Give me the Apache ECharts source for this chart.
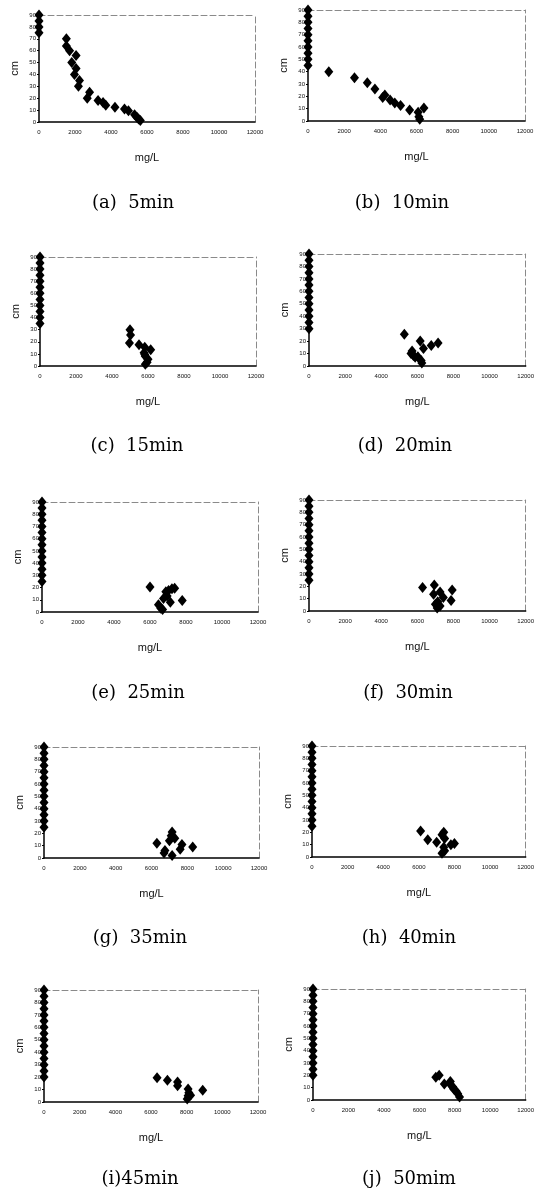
<!DOCTYPE html>
<html>
<head>
<meta charset="utf-8">
<script src="https://cdn.jsdelivr.net/npm/echarts@6/dist/echarts.min.js"></script>
<style>
  html, body { margin: 0; padding: 0; background: #fff; }
  #main { width: 537px; height: 1191px; }
</style>
</head>
<body>
<div id="main"></div>
<script>
// captions under each small chart
var captions = ['(a)  5min', '(b)  10min', '(c)  15min', '(d)  20min', '(e)  25min',
                '(f)  30min', '(g)  35min', '(h)  40min', '(i)45min', '(j)  50mim'];

// [mg/L, cm]
var pts5 = [[0,90],[0,85],[0,80],[0,75],[1520,70],[1520,64],[1700,60],[2060,56],[1820,50],[2060,45],
  [1970,40],[2250,35],[2190,30],[2810,25],[2680,20],[3280,18],[3560,16.5],[3710,14],[4220,12.5],
  [4750,11],[4970,9.5],[5310,6],[5440,4],[5530,2.5],[5630,1.2]];
var pts10 = [[0,90],[0,85],[0,80],[0,75],[0,70],[0,65],[0,60],[0,55],[0,50],[0,45],
  [1150,40],[2570,35],[3280,31],[3700,26],[4250,21],[4130,19],[4540,17],[4800,14.5],[5120,12.5],
  [5620,9],[6090,7],[6130,3.5],[6180,1.5],[6410,10.5]];
var pts15 = [[0,90],[0,85],[0,80],[0,75],[0,70],[0,65],[0,60],[0,55],[0,50],[0,45],[0,40],[0,35],
  [5000,30],[5030,25.5],[4970,19],[5500,17.5],[5820,15.5],[6150,13.5],[5780,11],[5820,9.5],
  [5850,8],[6000,5.5],[5950,3],[5850,1.5]];
var pts20 = [[0,90],[0,85],[0,80],[0,75],[0,70],[0,65],[0,60],[0,55],[0,50],[0,45],[0,40],[0,35],[0,30],
  [5280,25.5],[6160,20],[6340,14],[6770,16.5],[7150,18.5],[5710,12],[5650,10],[5780,8.5],
  [5880,7],[6030,7.5],[6210,4.5],[6250,2.5]];
var pts25 = [[0,90],[0,85],[0,80],[0,75],[0,70],[0,65],[0,60],[0,55],[0,50],[0,45],[0,40],[0,35],[0,30],[0,25],
  [6000,20.5],[6880,16.5],[7030,17.5],[7220,19],[7370,19.5],[6750,11],[7130,8],[7790,9.5],
  [6470,6],[6600,3],[6700,2],[6950,13]];
var pts30 = [[0,90],[0,85],[0,80],[0,75],[0,70],[0,65],[0,60],[0,55],[0,50],[0,45],[0,40],[0,35],[0,30],[0,25],
  [6290,19],[6940,21],[6900,13.5],[7260,15.5],[7440,11],[7130,7.5],[7000,5.5],[7260,4],
  [7930,17],[7870,8.5],[7100,2.5]];
var pts35 = [[0,90],[0,85],[0,80],[0,75],[0,70],[0,65],[0,60],[0,55],[0,50],[0,45],[0,40],[0,35],[0,30],[0,25],
  [6300,12],[6700,4],[6750,6],[7000,14],[7100,18],[7150,21],[7300,16],[7600,7],[7700,11],
  [8300,9],[7150,2]];
var pts40 = [[0,90],[0,85],[0,80],[0,75],[0,70],[0,65],[0,60],[0,55],[0,50],[0,45],[0,40],[0,35],[0,30],[0,25],
  [6100,21],[6500,14],[7000,12],[7300,18],[7400,20],[7450,15],[7400,8],[7450,5],[7300,3],
  [7800,10],[8000,11]];
var pts45 = [[0,90],[0,85],[0,80],[0,75],[0,70],[0,65],[0,60],[0,55],[0,50],[0,45],[0,40],[0,35],[0,30],[0,25],[0,20],
  [6340,19.5],[6920,17.5],[7490,16],[7490,13],[8080,10.5],[8120,7.5],[8080,5],[8220,5.5],
  [8030,2.5],[8900,9.5]];
var pts50 = [[0,90],[0,85],[0,80],[0,75],[0,70],[0,65],[0,60],[0,55],[0,50],[0,45],[0,40],[0,35],[0,30],[0,25],[0,20],
  [6930,18.5],[7120,20],[7410,13],[7750,15],[7790,12],[7890,10.5],[7940,9],[8080,7],[8170,5],[8270,2.5]];

var allPts = [pts5, pts10, pts15, pts20, pts25, pts30, pts35, pts40, pts45, pts50];

var xMin = 0, xMax = 12000, xStep = 2000;
var yMin = 0, yMax = 90, yStep = 10;

// plot boxes [left, top, width, height] and caption centres [x, y]
var boxes = [
  [39, 15, 216, 107], [308, 10, 217, 111],
  [40, 257, 216, 109], [309, 254, 217, 112],
  [42, 502, 216, 110], [309, 500, 218, 111],
  [44, 747, 215, 111], [312, 746, 216, 111],
  [44, 990, 214, 112], [313, 989, 214, 111]
];
var capPos = [
  [128, 200], [397, 200], [132, 443], [400, 443], [133, 690],
  [403, 690], [135, 935], [404, 935], [135, 1176], [404, 1176]
];

var myChart = echarts.init(document.getElementById('main'));

var grids = [], xAxes = [], yAxes = [], series = [], titles = [];
var nameFont = { fontSize: 11, color: '#111', fontFamily: 'Liberation Sans' };
var dashBorder = { show: true, onZero: false, lineStyle: { color: '#8a8a8a', width: 1, type: [6, 3] } };

for (var i = 0; i < 10; i++) {
  var b = boxes[i];
  grids.push({ left: b[0], top: b[1], width: b[2], height: b[3] });

  // bottom axis
  xAxes.push({
    type: 'value', gridIndex: i, min: xMin, max: xMax, interval: xStep,
    name: 'mg/L', nameLocation: 'middle', nameGap: 30, nameTextStyle: nameFont,
    axisLine: { show: true, onZero: false, lineStyle: { color: '#000', width: 1.5 } },
    axisTick: { show: false },
    splitLine: { show: false },
    axisLabel: { fontSize: 6, color: '#111', fontFamily: 'Liberation Sans', margin: 7,
                 formatter: function (v) { return String(v); } }
  });
  // top border
  xAxes.push({
    type: 'value', gridIndex: i, position: 'top', min: xMin, max: xMax,
    axisLine: dashBorder, axisTick: { show: false }, axisLabel: { show: false }, splitLine: { show: false }
  });

  yAxes.push({
    type: 'value', gridIndex: i, min: yMin, max: yMax, interval: yStep,
    name: 'cm', nameLocation: 'middle', nameGap: 19, nameRotate: 90, nameTextStyle: nameFont,
    axisLine: { show: true, onZero: false, lineStyle: { color: '#000', width: 1.5 } },
    axisTick: { show: true, length: 2, lineStyle: { color: '#000' } },
    splitLine: { show: false },
    axisLabel: { fontSize: 6, color: '#111', fontFamily: 'Liberation Sans', margin: 3 }
  });
  // right border
  yAxes.push({
    type: 'value', gridIndex: i, position: 'right', min: yMin, max: yMax,
    axisLine: dashBorder, axisTick: { show: false }, axisLabel: { show: false }, splitLine: { show: false }
  });

  series.push({
    type: 'scatter', xAxisIndex: i * 2, yAxisIndex: i * 2,
    data: allPts[i], symbol: 'diamond', symbolSize: [9, 11],
    itemStyle: { color: '#000', opacity: 1 }, clip: false, silent: true
  });

  titles.push({
    text: captions[i], left: capPos[i][0], top: capPos[i][1] - 11, textAlign: 'center',
    textStyle: { fontFamily: 'DejaVu Serif', fontSize: 18, fontWeight: 'normal', color: '#000' }
  });
}

myChart.setOption({
  backgroundColor: '#fff',
  animation: false,
  title: titles,
  grid: grids,
  xAxis: xAxes,
  yAxis: yAxes,
  series: series
});
</script>
</body>
</html>
